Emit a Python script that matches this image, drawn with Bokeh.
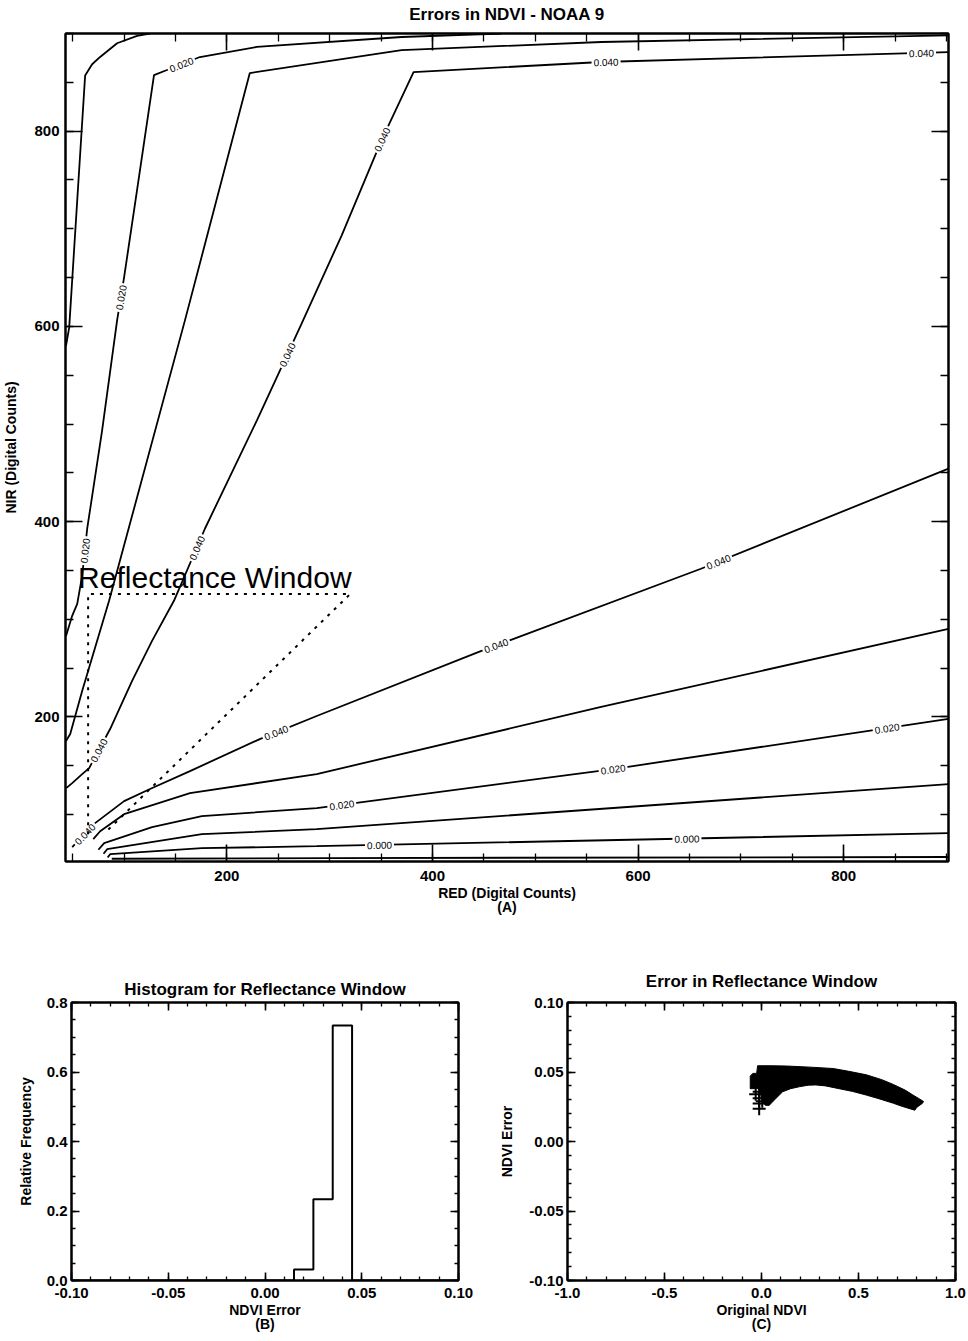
import math
from bokeh.plotting import figure
from bokeh.models import (Range1d, LinearAxis, SingleIntervalTicker, NumeralTickFormatter,
                          ColumnDataSource, CustomJSTickFormatter)
from bokeh.layouts import column, row
from bokeh.core.properties import value
from bokeh.embed import file_html
from bokeh.resources import INLINE

FONT = "Liberation Sans"

# ---------------- data: panel A (contours of NDVI error) ----------------
RED_RANGE = (43, 902)
NIR_RANGE = (52, 900)

# upper family (steep lines bending at NIR saturation)
C010U_RED = [43.5, 46.6, 54.4, 62.1, 68.9, 76.7, 93.2, 112.6, 125.0]
C010U_NIR = [580.0, 599.0, 729.0, 857.0, 868.5, 876.0, 890.0, 897.5, 900.0]

C020U_RED = [43.5, 49.5, 54.4, 59.2, 64.1, 78.6, 93.2, 100.0, 112.6, 129.1, 141.7, 173.8, 229.1, 369.9, 467.0]
C020U_NIR = [283.0, 303.6, 315.9, 344.6, 392.8, 493.3, 606.2, 650.3, 739.5, 857.4, 862.6, 875.9, 886.2, 896.4, 900.0]

C030U_RED = [43.5, 47.6, 59.2, 85.4, 159.2, 222.3, 369.9, 564.1, 902.0]
C030U_NIR = [175.4, 182.6, 226.7, 319.0, 606.2, 859.5, 883.0, 891.3, 898.0]

C040U_RED = [43.7, 49.5, 59.2, 66.0, 86.4, 107.8, 127.2, 148.5, 178.6, 229.1, 272.8, 311.7, 350.5, 381.6, 564.1, 902.0]
C040U_NIR = [127.2, 132.3, 141.5, 147.7, 187.7, 236.9, 277.9, 319.0, 392.8, 503.6, 603.1, 693.3, 790.8, 860.5, 870.8, 881.0]

# lower family (fan of lines from the origin)
C040L_RED = [49.5, 71.8, 100.0, 125.2, 164.1, 232.0, 287.4, 447.6, 661.2, 902.0]
C040L_NIR = [66.7, 91.3, 113.8, 126.2, 144.6, 177.4, 201.0, 267.7, 351.8, 454.4]

C030L_RED = [70.0, 76.7, 100.0, 164.1, 287.4, 564.1, 902.0]
C030L_NIR = [75.0, 83.0, 100.5, 122.0, 141.5, 210.3, 290.3]

C020L_RED = [75.0, 80.6, 127.2, 175.7, 287.4, 575.7, 902.0]
C020L_NIR = [64.0, 70.8, 87.2, 98.5, 106.7, 146.7, 198.0]

C010L_RED = [80.0, 83.5, 175.7, 287.4, 902.0]
C010L_NIR = [60.0, 64.6, 80.0, 85.1, 131.3]

C000L_RED = [84.0, 86.4, 175.7, 287.4, 902.0]
C000L_NIR = [56.0, 59.5, 65.6, 67.7, 81.0]

CM10L_RED = [88.0, 300.0, 902.0]
CM10L_NIR = [54.8, 55.5, 56.6]

CONTOURS = {
    "c010u": (C010U_RED, C010U_NIR), "c020u": (C020U_RED, C020U_NIR),
    "c030u": (C030U_RED, C030U_NIR), "c040u": (C040U_RED, C040U_NIR),
    "c040l": (C040L_RED, C040L_NIR), "c030l": (C030L_RED, C030L_NIR),
    "c020l": (C020L_RED, C020L_NIR), "c010l": (C010L_RED, C010L_NIR),
    "c000l": (C000L_RED, C000L_NIR), "cm10l": (CM10L_RED, CM10L_NIR),
}

# contour labels: (contour, text, approx red, approx nir)
LABEL_LINE = ["c020u", "c020u", "c020u", "c040u", "c040u", "c040u", "c040u", "c040u", "c040u",
              "c040l", "c040l", "c040l", "c040l", "c020l", "c020l", "c020l", "c000l", "c000l"]
LABEL_TEXT = ["0.020", "0.020", "0.020", "0.040", "0.040", "0.040", "0.040", "0.040", "0.040",
              "0.040", "0.040", "0.040", "0.040", "0.020", "0.020", "0.020", "0.000", "0.000"]
LABEL_RED = [62.1, 96.1, 156.3, 76.7, 172.8, 260.2, 352.4, 568.9, 875.7,
             62.1, 248.5, 462.1, 678.6, 311.7, 575.7, 842.7, 348.5, 647.6]
LABEL_NIR = [370.3, 629.7, 866.7, 165.1, 372.3, 570.3, 790.8, 869.7, 881.0,
             80.0, 182.6, 272.8, 358.0, 110.8, 146.7, 185.6, 67.7, 72.8]

# reflectance window outline
WINDOW_RED = [65, 65, 320, 84]
WINDOW_NIR = [80, 326, 326, 84]

# ---------------- data: panel B (histogram) ----------------
HIST_CENTERS = [-0.10, -0.09, -0.08, -0.07, -0.06, -0.05, -0.04, -0.03, -0.02, -0.01, 0.00,
                0.01, 0.02, 0.03, 0.04, 0.05, 0.06, 0.07, 0.08, 0.09, 0.10]
HIST_FREQ = [0, 0, 0, 0, 0, 0, 0, 0, 0, 0, 0,
             0, 0.032, 0.234, 0.734, 0, 0, 0, 0, 0, 0]

# ---------------- data: panel C (error vs original NDVI) ----------------
CLOUD_NDVI = [-0.058, -0.045, -0.025, -0.020, 0.05, 0.13, 0.25, 0.37, 0.45, 0.54, 0.62, 0.68, 0.74, 0.78, 0.81, 0.835,
              0.83, 0.80, 0.79, 0.72, 0.68, 0.60, 0.54, 0.47, 0.40, 0.33, 0.28, 0.24, 0.195, 0.15, 0.109, 0.06, 0.04,
              0.02, 0.0, -0.005, -0.02, -0.045, -0.058]
CLOUD_ERR = [0.047, 0.049, 0.049, 0.0545, 0.0545, 0.0543, 0.0535, 0.0525, 0.0505, 0.048, 0.0445, 0.041, 0.037, 0.0335,
             0.031, 0.0288,
             0.0275, 0.0245, 0.0225, 0.0255, 0.0275, 0.031, 0.0334, 0.036, 0.038, 0.040, 0.0407, 0.0405, 0.0394,
             0.038, 0.0358, 0.029, 0.026, 0.026, 0.030, 0.036, 0.038, 0.038, 0.038]
CROSS_NDVI = [-0.012, -0.012, -0.012, -0.012, 0.004, -0.030]
CROSS_ERR = [0.0358, 0.0311, 0.0273, 0.0236, 0.0290, 0.0340]

# ---------------- layout constants ----------------
TOP_W, TOP_H = 968, 950
TOP_B = dict(left=63, right=20, top=33, bottom=89)
BOT_H = 391


def style_axis(ax, major_in, minor_in, size="15px", standoff=5):
    ax.axis_line_width = 2
    ax.axis_line_color = "black"
    ax.major_tick_in = major_in
    ax.major_tick_out = 0
    ax.minor_tick_in = minor_in
    ax.minor_tick_out = 0
    ax.major_tick_line_width = 1.6
    ax.minor_tick_line_width = 1.3
    ax.major_label_text_font = FONT
    ax.major_label_text_font_style = "bold"
    ax.major_label_text_font_size = size
    ax.major_label_text_color = "black"
    ax.major_label_standoff = standoff
    ax.axis_label_text_font = FONT
    ax.axis_label_text_font_style = "bold"
    ax.axis_label_text_color = "black"
    ax.axis_label_text_line_height = 0.92


def mirror_axes(p, xticker, yticker, major_in, minor_in):
    a = LinearAxis(ticker=xticker, formatter=CustomJSTickFormatter(code="return ''"))
    r = LinearAxis(ticker=yticker, formatter=CustomJSTickFormatter(code="return ''"))
    for ax in (a, r):
        style_axis(ax, major_in, minor_in, size="1px", standoff=0)
    p.add_layout(a, "above")
    p.add_layout(r, "right")
    return a


def base_fig(w, h, xr, yr, borders, title, tsize, tstandoff):
    p = figure(width=w, height=h, x_range=Range1d(*xr), y_range=Range1d(*yr),
               output_backend="svg", toolbar_location=None,
               min_border_left=borders["left"], min_border_right=borders["right"],
               min_border_top=borders["top"], min_border_bottom=borders["bottom"])
    p.xgrid.visible = False
    p.ygrid.visible = False
    p.outline_line_color = "black"
    p.outline_line_width = 2
    p.background_fill_color = "white"
    p.border_fill_color = "white"
    if title:
        p.title.text = title
        p.title.align = "center"
        p.title.text_font = FONT
        p.title.text_font_style = "bold"
        p.title.text_font_size = tsize
        p.title.text_color = "black"
        p.title.standoff = tstandoff
    return p


# ================= panel A =================
top = base_fig(TOP_W, TOP_H, RED_RANGE, NIR_RANGE, TOP_B, None, None, 0)
top.xaxis.ticker = SingleIntervalTicker(interval=200, num_minor_ticks=4)
top.yaxis.ticker = SingleIntervalTicker(interval=200, num_minor_ticks=4)
for ax in top.xaxis + top.yaxis:
    style_axis(ax, 17, 8, size="15px", standoff=6)
top.xaxis.major_label_standoff = 9
top.xaxis.axis_label = "RED (Digital Counts)\n(A)"
top.yaxis.axis_label = "NIR (Digital Counts)"
top.xaxis.axis_label_text_font_size = "14px"
top.yaxis.axis_label_text_font_size = "14px"
top.xaxis.axis_label_standoff = 1
top.yaxis.axis_label_standoff = 12
top_axis = mirror_axes(top, SingleIntervalTicker(interval=200, num_minor_ticks=4),
                       SingleIntervalTicker(interval=200, num_minor_ticks=4), 17, 8)
top_axis.axis_label = "Errors in NDVI - NOAA 9"
top_axis.axis_label_text_font_size = "17px"
top_axis.axis_label_standoff = 10

for name, (xs, ys) in CONTOURS.items():
    top.line(xs, ys, line_color="black", line_width=1.8)

frame_w = TOP_W - TOP_B["left"] - TOP_B["right"]
frame_h = TOP_H - TOP_B["top"] - TOP_B["bottom"]
sx = frame_w / (RED_RANGE[1] - RED_RANGE[0])
sy = frame_h / (NIR_RANGE[1] - NIR_RANGE[0])


def project(xs, ys, px, py):
    best = None
    qx, qy = px * sx, py * sy
    for i in range(len(xs) - 1):
        x1, y1 = xs[i] * sx, ys[i] * sy
        x2, y2 = xs[i + 1] * sx, ys[i + 1] * sy
        dx, dy = x2 - x1, y2 - y1
        l2 = dx * dx + dy * dy
        t = 0 if l2 == 0 else max(0.0, min(1.0, ((qx - x1) * dx + (qy - y1) * dy) / l2))
        cx, cy = x1 + t * dx, y1 + t * dy
        d = (qx - cx) ** 2 + (qy - cy) ** 2
        if best is None or d < best[0]:
            ang = math.atan2(dy, dx)
            if ang > math.pi / 2:
                ang -= math.pi
            if ang < -math.pi / 2:
                ang += math.pi
            best = (d, cx / sx, cy / sy, ang)
    return best[1], best[2], best[3]


lx, ly, la = [], [], []
for ln, rx, ny in zip(LABEL_LINE, LABEL_RED, LABEL_NIR):
    xs, ys = CONTOURS[ln]
    a, b, c = project(xs, ys, rx, ny)
    lx.append(a)
    ly.append(b)
    la.append(c)
lab_src = ColumnDataSource(dict(x=lx, y=ly, text=LABEL_TEXT, angle=la))
top.text(x="x", y="y", text="text", angle="angle", source=lab_src,
         text_font=value(FONT), text_font_size="10px", text_color="black",
         text_align="center", text_baseline="middle",
         background_fill_color="white", padding=2)

top.line(WINDOW_RED, WINDOW_NIR, line_color="black", line_width=2, line_dash="3 6")
top.text(x=[WINDOW_RED[1]], y=[WINDOW_NIR[1]], text=["Reflectance Window"],
         x_offset=-10, y_offset=-16, text_font=value(FONT), text_font_size="30px",
         text_color="black", text_align="left", text_baseline="alphabetic")

# ================= panel B =================
hb = base_fig(484, BOT_H, (-0.10, 0.10), (0.0, 0.8), dict(left=71, right=26, top=52, bottom=61),
              "Histogram for Reflectance Window", "17px", 8)
hb.xaxis.ticker = SingleIntervalTicker(interval=0.05, num_minor_ticks=5)
hb.yaxis.ticker = SingleIntervalTicker(interval=0.2, num_minor_ticks=4)
hb.xaxis.formatter = NumeralTickFormatter(format="0.00")
hb.yaxis.formatter = NumeralTickFormatter(format="0.0")
for ax in hb.xaxis + hb.yaxis:
    style_axis(ax, 8, 4, size="15px", standoff=4)
hb.xaxis.major_label_standoff = 7
hb.xaxis.axis_label = "NDVI Error\n(B)"
hb.yaxis.axis_label = "Relative Frequency"
hb.xaxis.axis_label_text_font_size = "14px"
hb.yaxis.axis_label_text_font_size = "14px"
hb.xaxis.axis_label_standoff = 1
hb.yaxis.axis_label_standoff = 10
mirror_axes(hb, SingleIntervalTicker(interval=0.05, num_minor_ticks=5),
            SingleIntervalTicker(interval=0.2, num_minor_ticks=4), 8, 4)
hb.step(HIST_CENTERS, HIST_FREQ, mode="center", line_color="black", line_width=2)

# ================= panel C =================
hc = base_fig(484, BOT_H, (-1.0, 1.0), (-0.10, 0.10), dict(left=83, right=13, top=52, bottom=61),
              "Error in Reflectance Window", "17px", 23)
hc.xaxis.ticker = SingleIntervalTicker(interval=0.5, num_minor_ticks=5)
hc.yaxis.ticker = SingleIntervalTicker(interval=0.05, num_minor_ticks=5)
hc.xaxis.formatter = NumeralTickFormatter(format="0.0")
hc.yaxis.formatter = NumeralTickFormatter(format="0.00")
for ax in hc.xaxis + hc.yaxis:
    style_axis(ax, 8, 4, size="15px", standoff=4)
hc.xaxis.major_label_standoff = 7
hc.xaxis.axis_label = "Original NDVI\n(C)"
hc.yaxis.axis_label = "NDVI Error"
hc.xaxis.axis_label_text_font_size = "14px"
hc.yaxis.axis_label_text_font_size = "14px"
hc.xaxis.axis_label_standoff = 1
hc.yaxis.axis_label_standoff = 11
mirror_axes(hc, SingleIntervalTicker(interval=0.5, num_minor_ticks=5),
            SingleIntervalTicker(interval=0.05, num_minor_ticks=5), 8, 4)
hc.patch(CLOUD_NDVI, CLOUD_ERR, fill_color="black", line_color="black", line_width=1)
hc.scatter(CROSS_NDVI, CROSS_ERR, marker="cross", size=13, line_color="black", line_width=2)

layout = column(top, row(hb, hc, spacing=0), spacing=0)
open("out.html", "w").write(file_html(layout, INLINE))
